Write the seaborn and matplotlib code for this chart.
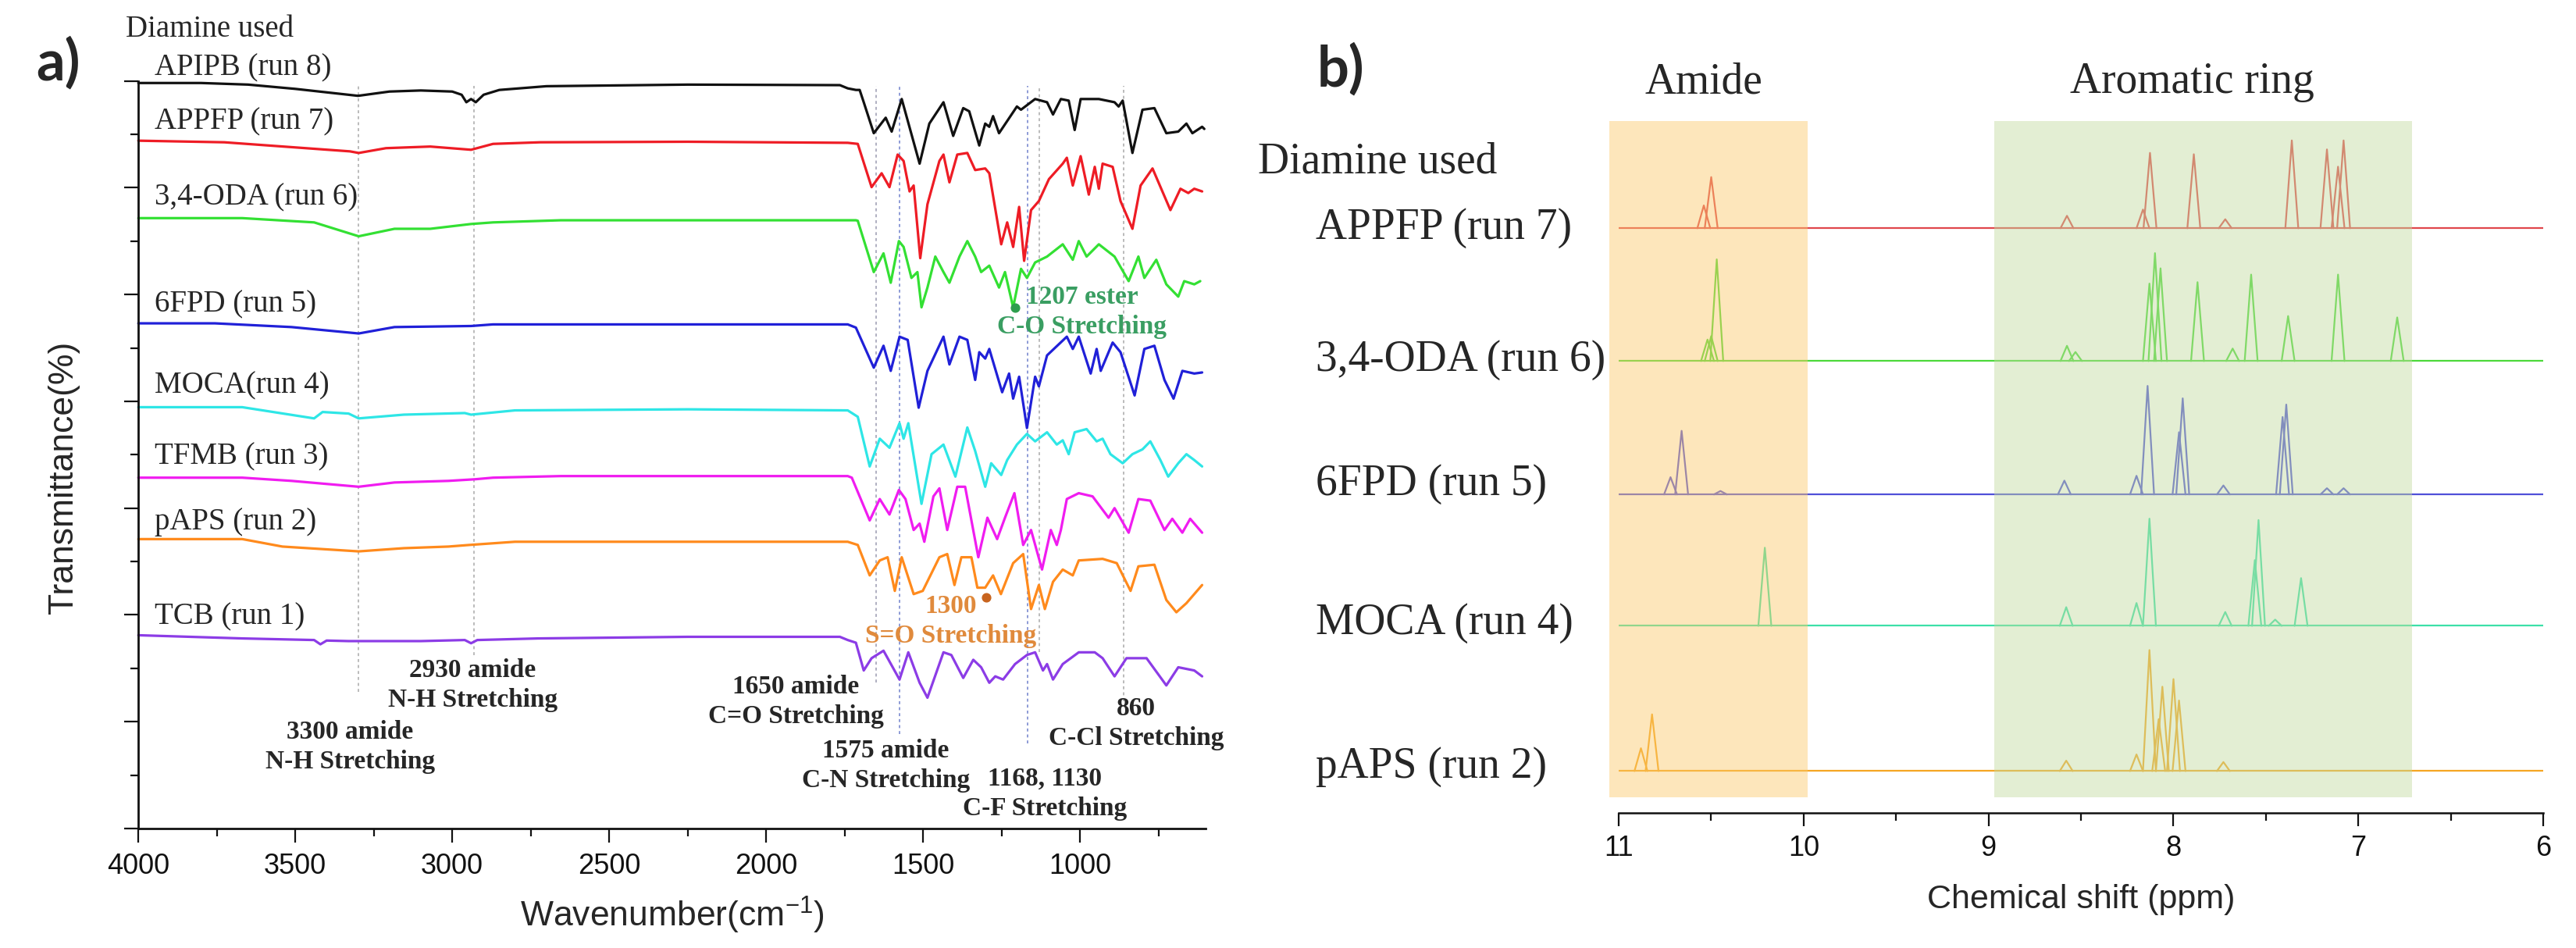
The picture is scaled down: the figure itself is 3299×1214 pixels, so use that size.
import pandas as pd
import seaborn as sns
import matplotlib.pyplot as plt

sns.set_theme(style="ticks")
plt.rcParams["font.family"] = ["Liberation Sans", "DejaVu Sans"]
plt.rcParams["mathtext.fontset"] = "custom"
plt.rcParams["mathtext.rm"] = "Liberation Sans"
SERIF = ["Liberation Serif", "DejaVu Serif"]

# ---------------- a) FTIR, stacked spectra (offset units read off the picture) ----------------
ftir_names = ["APIPB (run 8)", "APPFP (run 7)", "3,4-ODA (run 6)", "6FPD (run 5)",
              "MOCA(run 4)", "TFMB (run 3)", "pAPS (run 2)", "TCB (run 1)"]
ftir_colors = ["#111111", "#ee1c25", "#33e033", "#2020d8",
               "#2ee6e6", "#f01cf0", "#ff8a1c", "#8c3ce6"]

apipb_wn = [4000, 3800, 3650, 3500, 3300, 3200, 3100, 3000, 2970, 2955, 2940, 2925, 2900, 2850, 2700,
            2250, 1765, 1740, 1714, 1702, 1689, 1657, 1619, 1600, 1568, 1511, 1480, 1435, 1404, 1372,
            1353, 1321, 1302, 1289, 1277, 1258, 1201, 1188, 1143, 1105, 1086, 1061, 1036, 1017, 998,
            940, 890, 877, 864, 833, 801, 763, 725, 687, 661, 642, 611, 604]
apipb_t = [13.96, 13.96, 13.93, 13.85, 13.72, 13.80, 13.82, 13.80, 13.74, 13.60, 13.66, 13.60, 13.74,
           13.83, 13.90, 13.93, 13.92, 13.86, 13.83, 13.83, 13.60, 13.02, 13.31, 13.05, 13.66, 12.45,
           13.20, 13.60, 12.97, 13.49, 13.43, 12.79, 13.20, 13.14, 13.34, 13.02, 13.52, 13.46, 13.66,
           13.60, 13.37, 13.66, 13.63, 13.08, 13.66, 13.66, 13.60, 13.52, 13.63, 12.65, 13.46, 13.49,
           13.02, 13.05, 13.20, 13.02, 13.14, 13.10]

appfp_wn = [4000, 3726, 3326, 3298, 3211, 3070, 2940, 2870, 2720, 2250, 1740, 1708, 1664, 1632, 1607,
            1581, 1562, 1543, 1530, 1509, 1486, 1448, 1435, 1416, 1391, 1359, 1334, 1302, 1289, 1251,
            1232, 1213, 1194, 1178, 1156, 1131, 1099, 1055, 1042, 1023, 998, 972, 953, 940, 928, 896,
            871, 833, 807, 769, 712, 680, 655, 636, 611]
appfp_t = [12.88, 12.85, 12.68, 12.65, 12.74, 12.77, 12.71, 12.82, 12.85, 12.86, 12.84, 12.82, 12.01,
           12.27, 12.01, 12.62, 12.50, 11.93, 12.04, 10.68, 11.69, 12.50, 12.62, 12.10, 12.62, 12.65,
           12.33, 12.36, 12.27, 10.94, 11.35, 10.89, 11.64, 10.63, 11.58, 11.75, 12.16, 12.45, 12.56,
           12.04, 12.59, 11.87, 12.39, 11.98, 12.45, 12.39, 11.75, 11.23, 12.04, 12.36, 11.58, 11.98,
           11.90, 11.98, 11.93]

oda_wn = [4000, 3669, 3440, 3298, 3184, 3070, 2940, 2870, 2654, 2250, 1714, 1708, 1657, 1626, 1603,
          1577, 1562, 1537, 1518, 1505, 1486, 1461, 1435, 1416, 1384, 1359, 1334, 1315, 1289, 1258,
          1239, 1213, 1188, 1169, 1143, 1105, 1055, 1023, 1004, 979, 940, 890, 845, 814, 795, 757,
          725, 687, 668, 636, 617]
oda_t = [11.43, 11.43, 11.35, 11.09, 11.23, 11.23, 11.32, 11.35, 11.39, 11.39, 11.39, 11.38, 10.42,
         10.77, 10.22, 11.00, 10.89, 10.31, 10.42, 9.76, 10.13, 10.71, 10.42, 10.22, 10.71, 11.00,
         10.71, 10.42, 10.54, 10.13, 10.42, 9.76, 10.48, 10.31, 10.60, 10.71, 10.94, 10.65, 11.00,
         10.71, 10.94, 10.71, 10.25, 10.71, 10.31, 10.65, 10.19, 9.96, 10.25, 10.19, 10.25]

fpd_wn = [4000, 3756, 3512, 3298, 3184, 2940, 2870, 2250, 1740, 1714, 1657, 1626, 1603, 1575, 1549,
          1514, 1486, 1435, 1416, 1384, 1359, 1334, 1321, 1302, 1289, 1248, 1226, 1213, 1194, 1169,
          1143, 1131, 1105, 1042, 1023, 1004, 966, 947, 934, 896, 871, 826, 795, 763, 731, 702, 674,
          636, 611]
fpd_t = [9.46, 9.46, 9.39, 9.27, 9.39, 9.41, 9.44, 9.44, 9.44, 9.38, 8.63, 9.04, 8.57, 9.21, 9.15,
         7.88, 8.57, 9.21, 8.69, 9.21, 9.15, 8.40, 8.92, 8.80, 8.98, 8.17, 8.52, 8.05, 8.46, 7.50,
         8.46, 8.28, 8.86, 9.21, 8.98, 9.21, 8.52, 8.98, 8.57, 9.10, 8.92, 8.11, 8.98, 9.04, 8.40,
         8.05, 8.57, 8.52, 8.54]

moca_wn = [4000, 3669, 3440, 3413, 3330, 3298, 3154, 2960, 2940, 2800, 2250, 1740, 1708, 1670, 1638,
           1607, 1575, 1562, 1547, 1505, 1473, 1435, 1397, 1359, 1334, 1302, 1283, 1251, 1232, 1201,
           1169, 1143, 1105, 1074, 1055, 1036, 1017, 979, 947, 928, 903, 864, 833, 801, 776, 744,
           719, 687, 661, 636, 611]
moca_t = [7.89, 7.89, 7.68, 7.80, 7.77, 7.68, 7.75, 7.78, 7.75, 7.83, 7.85, 7.83, 7.71, 6.78, 7.30,
          7.13, 7.59, 7.30, 7.59, 6.08, 7.01, 7.19, 6.59, 7.51, 7.07, 6.40, 6.84, 6.62, 6.90, 7.19,
          7.39, 7.25, 7.42, 7.19, 7.27, 7.01, 7.42, 7.48, 7.25, 7.30, 7.01, 6.84, 7.01, 7.10, 7.25,
          6.90, 6.59, 6.84, 7.01, 6.90, 6.78]

tfmb_wn = [4000, 3669, 3512, 3298, 3184, 3012, 2928, 2870, 2654, 2250, 1740, 1727, 1670, 1638, 1607,
           1577, 1556, 1530, 1511, 1496, 1467, 1448, 1423, 1391, 1366, 1324, 1295, 1264, 1239, 1209,
           1181, 1156, 1121, 1093, 1074, 1061, 1042, 1004, 960, 909, 890, 845, 814, 776, 731, 706,
           674, 649, 611]
tfmb_t = [6.57, 6.57, 6.51, 6.40, 6.48, 6.51, 6.54, 6.57, 6.60, 6.60, 6.60, 6.57, 5.77, 6.17, 5.88,
          6.34, 6.17, 5.59, 5.71, 5.37, 6.22, 6.37, 5.59, 6.40, 6.40, 5.08, 5.82, 5.42, 5.82, 6.28,
          5.31, 5.59, 4.85, 5.59, 5.31, 5.59, 6.17, 6.28, 6.22, 5.82, 6.00, 5.54, 6.17, 6.14, 5.59,
          5.80, 5.54, 5.80, 5.54]

paps_wn = [4000, 3669, 3541, 3298, 3154, 3012, 2946, 2800, 2250, 1740, 1708, 1670, 1638, 1613, 1590,
           1568, 1530, 1501, 1448, 1423, 1400, 1378, 1346, 1327, 1302, 1277, 1252, 1213, 1181, 1156,
           1131, 1112, 1086, 1055, 1023, 1004, 928, 883, 839, 814, 763, 725, 693, 661, 611]
paps_t = [5.42, 5.42, 5.28, 5.19, 5.25, 5.28, 5.31, 5.37, 5.37, 5.37, 5.31, 4.74, 5.02, 5.08, 4.45,
          5.08, 4.39, 4.45, 5.08, 5.14, 4.56, 5.08, 5.08, 4.51, 4.51, 4.74, 4.39, 4.97, 5.14, 4.11,
          4.56, 4.11, 4.62, 4.85, 4.74, 5.02, 5.05, 4.97, 4.45, 4.91, 4.94, 4.28, 4.05, 4.22, 4.56]

tcb_wn = [4000, 3669, 3440, 3420, 3400, 3330, 3100, 2960, 2940, 2920, 2726, 2250, 1765, 1740, 1714,
          1689, 1664, 1626, 1575, 1547, 1511, 1486, 1435, 1410, 1372, 1340, 1315, 1289, 1270, 1245,
          1207, 1169, 1143, 1118, 1105, 1086, 1055, 1004, 953, 928, 890, 852, 788, 725, 687, 636, 611]
tcb_t = [3.62, 3.56, 3.53, 3.45, 3.52, 3.51, 3.51, 3.53, 3.47, 3.53, 3.56, 3.59, 3.59, 3.53, 3.48,
         2.96, 3.19, 3.33, 2.79, 3.30, 2.73, 2.45, 3.30, 3.25, 2.82, 3.16, 3.02, 2.73, 2.85, 2.79,
         3.08, 3.25, 3.30, 2.96, 3.08, 2.79, 3.08, 3.30, 3.30, 3.19, 2.85, 3.19, 3.19, 2.68, 3.02,
         2.96, 2.85]

ftir_wn = [apipb_wn, appfp_wn, oda_wn, fpd_wn, moca_wn, tfmb_wn, paps_wn, tcb_wn]
ftir_t = [apipb_t, appfp_t, oda_t, fpd_t, moca_t, tfmb_t, paps_t, tcb_t]

# band guide lines and their labels
band_wn = [3300, 2930, 1650, 1575, 1168, 1130, 860]
band_bottom = [2.56, 3.25, 2.73, 1.77, 1.59, 3.30, 2.38]
band_labels = ["3300 amide\nN-H Stretching", "2930 amide\nN-H Stretching",
               "1650 amide\nC=O Stretching", "1575 amide\nC-N Stretching",
               "1168, 1130\nC-F Stretching", "860\nC-Cl Stretching"]
band_label_xy = [(3326, 1.53), (2935, 2.68), (1905, 2.38), (1619, 1.18), (1112, 0.65), (821, 1.97)]

# ---------------- b) 1H NMR peaks (ppm, height above own baseline) ----------------
nmr_names = ["APPFP (run 7)", "3,4-ODA (run 6)", "6FPD (run 5)", "MOCA (run 4)", "pAPS (run 2)"]
nmr_colors = ["#e0474c", "#4cd93a", "#5050d8", "#3ce0a8", "#f5a623"]
nmr_base = [8.45, 6.53, 4.60, 2.70, 0.60]

appfp_ppm = [10.54, 10.50, 8.576, 8.165, 8.127, 7.89, 7.72, 7.36, 7.17, 7.11, 7.08]
appfp_h = [0.33, 0.74, 0.18, 0.27, 1.09, 1.07, 0.13, 1.27, 1.14, 0.89, 1.27]
oda_ppm = [10.52, 10.50, 10.47, 8.576, 8.53, 8.13, 8.10, 8.07, 7.87, 7.68, 7.58, 7.38, 7.11, 6.79]
oda_h = [0.31, 0.36, 1.47, 0.22, 0.13, 1.12, 1.56, 1.34, 1.14, 0.18, 1.25, 0.65, 1.25, 0.63]
fpd_ppm = [10.72, 10.66, 10.45, 8.59, 8.20, 8.14, 7.97, 7.95, 7.73, 7.41, 7.39, 7.17, 7.08]
fpd_h = [0.25, 0.92, 0.05, 0.20, 0.27, 1.57, 0.90, 1.39, 0.13, 1.12, 1.30, 0.09, 0.09]
moca_ppm = [10.21, 8.58, 8.20, 8.13, 7.72, 7.56, 7.54, 7.45, 7.31]
moca_h = [1.13, 0.27, 0.33, 1.55, 0.20, 0.95, 1.53, 0.09, 0.69]
paps_ppm = [10.88, 10.82, 8.58, 8.20, 8.13, 8.08, 8.06, 8.00, 7.97, 7.73]
paps_h = [0.33, 0.82, 0.15, 0.24, 1.75, 0.75, 1.22, 1.33, 1.02, 0.13]

nmr_ppm = [appfp_ppm, oda_ppm, fpd_ppm, moca_ppm, paps_ppm]
nmr_h = [appfp_h, oda_h, fpd_h, moca_h, paps_h]
PEAK_HW = 0.035  # half width of a drawn peak, ppm

# ---------------- figure ----------------
fig = plt.figure(figsize=(32.99, 12.14), dpi=100)
ax1 = fig.add_axes([0.0537, 0.126, 0.4143, 0.7887])
ax2 = fig.add_axes([0.6284, 0.1429, 0.3589, 0.7294])

# === panel a ===
ftir = pd.concat([pd.DataFrame({"wn": w, "T": t, "sample": n})
                  for n, w, t in zip(ftir_names, ftir_wn, ftir_t)], ignore_index=True)
ax1.vlines(band_wn, band_bottom, 13.9, colors=["#a8a8a8", "#a8a8a8", "#9a9ab0", "#6f80cc",
                                               "#6f80cc", "#a8a8a8", "#a8a8a8"],
           linestyles=(0, (2.5, 2.5)), linewidth=1.1, zorder=1)
sns.lineplot(data=ftir, x="wn", y="T", hue="sample", palette=ftir_colors, estimator=None,
             sort=False, linewidth=2.3, legend=False, ax=ax1, clip_on=False, zorder=2)

ax1.scatter([1207], [9.76], s=60, color="#2e9e4e", zorder=3)
ax1.scatter([1300], [4.33], s=60, color="#c8641e", zorder=3)

for name, y in zip(ftir_names, [14.24, 13.23, 11.81, 9.82, 8.29, 6.96, 5.74, 3.96]):
    ax1.text(3948, y, name, ha="left", va="center", fontsize=28, family=SERIF)
for lab, (x, y) in zip(band_labels, band_label_xy):
    ax1.text(x, y, lab, ha="center", va="center", fontsize=24, fontweight="bold",
             family=SERIF, linespacing=1.3)
ax1.text(993, 9.67, "1207 ester\nC-O Stretching", ha="center", va="center", fontsize=24,
         fontweight="bold", family=SERIF, color="#3a9e62", linespacing=1.3)
ax1.text(1412, 3.88, "1300\nS=O Stretching", ha="center", va="center", fontsize=24,
         fontweight="bold", family=SERIF, color="#e08a3c", linespacing=1.3)

ax1.set_xlim(4000, 600)
ax1.set_ylim(0, 14)
ax1.set_xticks([4000, 3500, 3000, 2500, 2000, 1500, 1000])
ax1.set_xticks([3750, 3250, 2750, 2250, 1750, 1250, 750], minor=True)
ax1.set_yticks(range(0, 15, 2))
ax1.set_yticks(range(1, 15, 2), minor=True)
ax1.set_yticklabels([])
sns.despine(ax=ax1)
for s in ("left", "bottom"):
    ax1.spines[s].set_linewidth(2)
    ax1.spines[s].set_color("#111111")
ax1.tick_params(which="major", direction="out", length=13, width=1.6, labelsize=26, pad=9,
                colors="#111111")
ax1.tick_params(which="minor", direction="out", length=7, width=1.6, colors="#111111")
ax1.set_xlabel(r"Wavenumber(cm$^{-1}$)", fontsize=32, va="center")
ax1.xaxis.set_label_coords(0.5, -0.116)
ax1.set_ylabel("")
fig.text(82 / 3299, 1 - 611 / 1214, "Transmittance(%)", rotation=90, ha="center",
         va="center", fontsize=32)
fig.text(161 / 3299, 1 - 37.5 / 1214, "Diamine used", ha="left", va="center", fontsize=28,
         family=SERIF)
fig.text(74 / 3299, 1 - 81 / 1214, "a)", ha="center", va="center", fontsize=52,
         fontweight="bold", family=["Lato", "DejaVu Sans"])

# === panel b ===
rows = []
for name, base, ppm, hts in zip(nmr_names, nmr_base, nmr_ppm, nmr_h):
    rows += [(name, name + "-base", 11.0, base), (name, name + "-base", 6.0, base)]
    for i, (p, h) in enumerate(zip(ppm, hts)):
        unit = f"{name}-{i}"
        rows += [(name, unit, p + PEAK_HW, base), (name, unit, p, base + h),
                 (name, unit, p - PEAK_HW, base)]
nmr = pd.DataFrame(rows, columns=["sample", "unit", "ppm", "I"])

sns.lineplot(data=nmr, x="ppm", y="I", hue="sample", units="unit", palette=nmr_colors,
             estimator=None, sort=False, linewidth=1.6, legend=False, ax=ax2, zorder=2)
ax2.axvspan(9.98, 11.05, ymin=0.022, ymax=1.0, color="#fbc96a", alpha=0.45, lw=0,
            zorder=3, clip_on=False)
ax2.axvspan(6.71, 8.97, ymin=0.022, ymax=1.0, color="#c1da9e", alpha=0.45, lw=0, zorder=3)

for name, y in zip(nmr_names, [8.45, 6.55, 4.75, 2.74, 0.66]):
    ax2.text(12.64, y, name, ha="left", va="center", fontsize=40, family=SERIF)
ax2.text(12.95, 9.41, "Diamine used", ha="left", va="center", fontsize=40, family=SERIF)
ax2.text(10.54, 10.56, "Amide", ha="center", va="center", fontsize=40, family=SERIF)
ax2.text(7.90, 10.56, "Aromatic ring", ha="center", va="center", fontsize=40, family=SERIF)

ax2.set_xlim(11, 6)
ax2.set_ylim(0, 10)
ax2.set_xticks([11, 10, 9, 8, 7, 6])
ax2.set_xticks([10.5, 9.5, 8.5, 7.5, 6.5], minor=True)
ax2.set_yticks([])
for s in ("left", "top", "right"):
    ax2.spines[s].set_visible(False)
ax2.spines["bottom"].set_linewidth(1.8)
ax2.spines["bottom"].set_color("#111111")
ax2.tick_params(which="major", direction="out", length=12.5, width=1.6, labelsize=26, pad=8,
                colors="#111111")
ax2.tick_params(which="minor", direction="out", length=7, width=1.6, colors="#111111")
ax2.set_xlabel("Chemical shift (ppm)", fontsize=31, va="center")
ax2.xaxis.set_label_coords(0.5, -0.126)
ax2.set_ylabel("")
fig.text(1717 / 3299, 1 - 89 / 1214, "b)", ha="center", va="center", fontsize=52,
         fontweight="bold", family=["Lato", "DejaVu Sans"])

fig.savefig("out.png", dpi=100)
